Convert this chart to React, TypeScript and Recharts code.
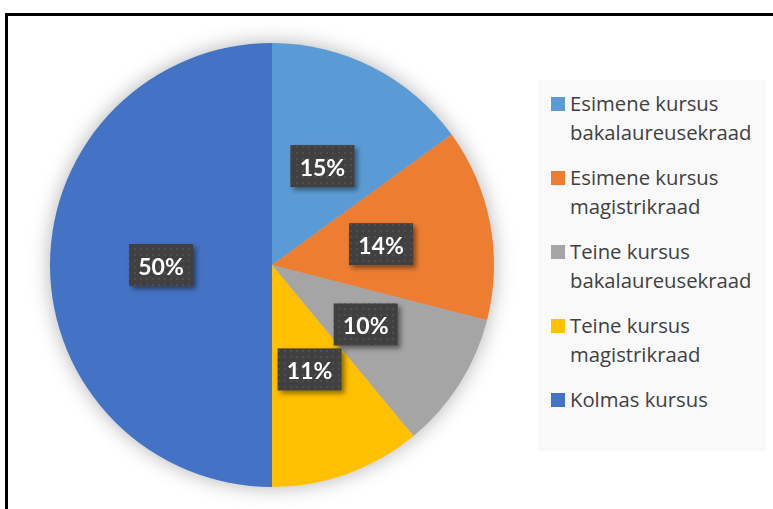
import { FC } from 'react'
import { Cell, Legend, Pie, PieChart } from 'recharts'

const CATEGORIES = [
    'Esimene kursus bakalaureusekraad',
    'Esimene kursus magistrikraad',
    'Teine kursus bakalaureusekraad',
    'Teine kursus magistrikraad',
    'Kolmas kursus',
]
const SHARES = [15, 14, 10, 11, 50]
const COLORS = ['#5B9BD5', '#ED7D31', '#A5A5A5', '#FFC000', '#4472C4']

const data = CATEGORIES.map((name, i) => ({ name, value: SHARES[i] }))

const RAD = Math.PI / 180

const renderLabel = (props: any) => {
    const { cx, cy, midAngle, outerRadius, percent, index } = props
    const r = outerRadius * 0.5
    const x = cx + r * Math.cos(-midAngle * RAD)
    const y = cy + r * Math.sin(-midAngle * RAD)
    return (
        <g key={`lbl-${index}`}>
            <rect x={x - 32} y={y - 21} width={64} height={42} fill="#404040" filter="url(#boxShadow)" />
            <rect x={x - 32} y={y - 21} width={64} height={42} fill="url(#dots)" />
            <text
                x={x}
                y={y + 1}
                fill="#ffffff"
                fontFamily="Lato, sans-serif"
                fontWeight={700}
                fontSize={23}
                textAnchor="middle"
                dominantBaseline="central"
            >
                {`${Math.round(percent * 100)}%`}
            </text>
        </g>
    )
}

const LegendBox = () => (
    <div
        style={{
            width: '100%',
            height: '100%',
            background: '#f9f9f9',
            boxSizing: 'border-box',
            padding: '9px 4px 0 13px',
            fontFamily: '"Open Sans", sans-serif',
            fontSize: 20.3,
            lineHeight: '29px',
            color: '#404040',
        }}
    >
        {data.map((d, i) => (
            <div key={d.name} style={{ display: 'flex', alignItems: 'flex-start', marginBottom: 16 }}>
                <span
                    style={{
                        width: 14,
                        height: 14,
                        marginTop: 8,
                        marginRight: 5,
                        flex: '0 0 14px',
                        background: COLORS[i],
                    }}
                />
                <span style={{ width: 192, whiteSpace: 'normal' }}>{d.name}</span>
            </div>
        ))}
    </div>
)

const App: FC = () => {
    return (
        <div style={{ position: 'absolute', left: 0, top: 0, width: 773, height: 509, background: '#fff', overflow: 'hidden' }}>
            <style>{`.pie-wrap svg.recharts-surface { filter: drop-shadow(0 0 10px rgba(0,0,0,0.3)); }`}</style>
            <div
                style={{
                    position: 'absolute',
                    left: 5,
                    top: 13,
                    width: 800,
                    height: 520,
                    border: '3px solid #000',
                    boxSizing: 'border-box',
                }}
            />
            <div className="pie-wrap" style={{ position: 'absolute', left: 0, top: 0 }}>
                <PieChart width={773} height={509}>
                    <defs>
                        <filter id="boxShadow" x="-30%" y="-30%" width="160%" height="160%">
                            <feDropShadow dx={3} dy={3} stdDeviation={2.5} floodColor="#000" floodOpacity={0.45} />
                        </filter>
                        <pattern id="dots" width={6} height={6} patternUnits="userSpaceOnUse">
                            <rect x={2} y={2} width={2} height={2} fill="#4e4e4e" />
                        </pattern>
                    </defs>
                    <Pie
                        data={data}
                        dataKey="value"
                        nameKey="name"
                        cx={267}
                        cy={260}
                        outerRadius={222}
                        startAngle={90}
                        endAngle={-270}
                        stroke="none"
                        label={renderLabel}
                        labelLine={false}
                        isAnimationActive={false}
                    >
                        {data.map((entry, index) => (
                            <Cell key={`cell-${index}`} fill={COLORS[index % COLORS.length]} />
                        ))}
                    </Pie>
                    <Legend
                        content={<LegendBox />}
                        wrapperStyle={{ position: 'absolute', left: 538, top: 80, width: 228, height: 371 }}
                    />
                </PieChart>
            </div>
        </div>
    )
}

export default App
